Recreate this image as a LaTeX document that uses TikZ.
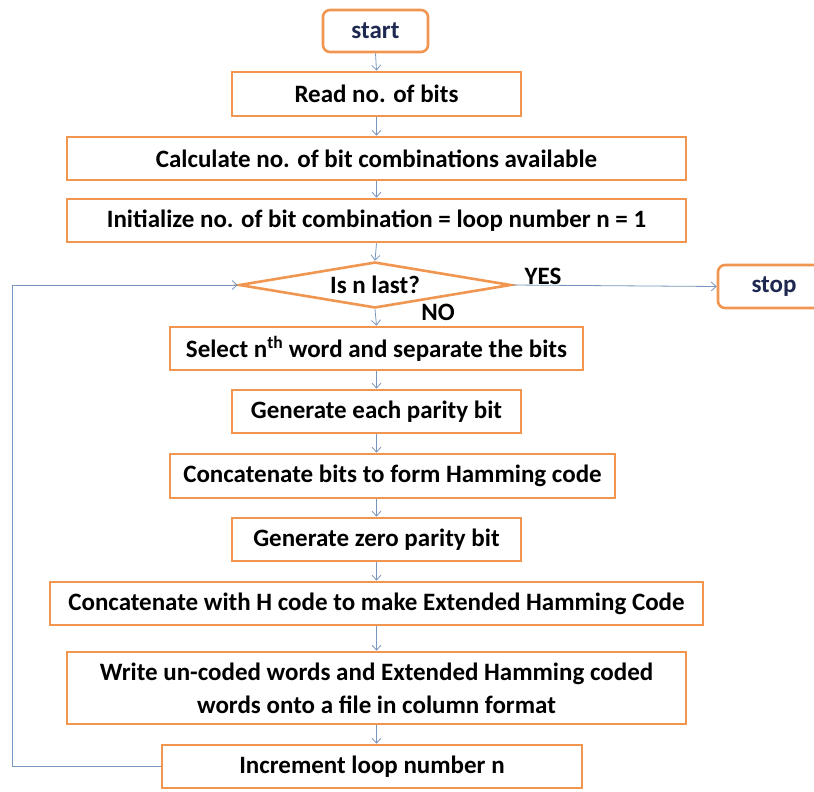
\documentclass[tikz,border=0pt]{standalone}
\usepackage{fontspec}
\setmainfont{Carlito}
\usetikzlibrary{arrows.meta,shapes.geometric}
\definecolor{boxorange}{RGB}{240,150,80}
\definecolor{arrblue}{RGB}{120,150,190}
\definecolor{termtext}{RGB}{30,40,80}
\begin{document}
\begin{tikzpicture}[x=1pt,y=-1pt,
  stepbox/.style={draw=boxorange,line width=2.6pt,fill=white,inner sep=2pt,
    font=\fontsize{25}{33}\selectfont\bfseries,align=center},
  termbox/.style={stepbox,rounded corners=7pt,text=termtext},
  decbox/.style={diamond,draw=boxorange,line width=2.6pt,fill=white,inner sep=0pt,
    minimum width=272pt,minimum height=46pt},
  lbl/.style={font=\fontsize{25}{33}\selectfont\bfseries,inner sep=0pt},
  arr/.style={draw=arrblue,line width=0.8pt,-{Straight Barb[length=5pt,width=9pt]}}]
\useasboundingbox (0,0) rectangle (814,792);
\node[termbox,minimum width=105pt,minimum height=42pt] (start) at (375.5,31) {start};
\node[stepbox,minimum width=289pt,minimum height=44pt] (read) at (376.5,94) {Read no. of bits};
\node[stepbox,minimum width=619pt,minimum height=43pt] (calc) at (376.5,158.5) {Calculate no. of bit combinations available};
\node[stepbox,minimum width=619pt,minimum height=43pt] (init) at (376.5,220.5) {Initialize no. of bit combination = loop number n = 1};
\node[decbox] (dia) at (375,285) {};
\node[lbl] (diat) at (dia.center) {Is n last?};
\node[termbox,minimum width=112pt,minimum height=43pt] (stop) at (774,286.5) {stop};
\node[lbl] (yes) at (543,276) {YES};
\node[lbl] (no) at (438,312) {NO};
\node[stepbox,minimum width=413pt,minimum height=43pt] (sel) at (376.5,348.5) {Select n\textsuperscript{th} word and separate the bits};
\node[stepbox,minimum width=289pt,minimum height=43pt] (gen1) at (376.5,411.5) {Generate each parity bit};
\node[stepbox,minimum width=445pt,minimum height=44pt] (cat1) at (392.5,476) {Concatenate bits to form Hamming code};
\node[stepbox,minimum width=289pt,minimum height=43pt] (gen0) at (376.5,539.5) {Generate zero parity bit};
\node[stepbox,minimum width=653pt,minimum height=43pt] (catH) at (376.5,603.5) {Concatenate with H code to make Extended Hamming Code};
\node[stepbox,minimum width=619pt,minimum height=72pt] (write) at (376.5,688) {Write un-coded words and Extended Hamming coded\\words onto a file in column format};
\node[stepbox,minimum width=420pt,minimum height=43pt] (incr) at (372,766.5) {Increment loop number n};
\coordinate (lp) at (12,766.5);
\draw[arr] (start.south) -- (read.north);
\draw[arr] (read.south) -- (calc.north);
\draw[arr] (calc.south) -- (init.north);
\draw[arr] (init.south) -- (dia.north);
\draw[arr] (dia.south) -- (sel.north);
\draw[arr] (sel.south) -- (gen1.north);
\draw[arr] (gen1.south) -- (gen1.south |- cat1.north);
\draw[arr] (gen1.south |- cat1.south) -- (gen0.north);
\draw[arr] (gen0.south) -- (catH.north);
\draw[arr] (catH.south) -- (write.north);
\draw[arr] (write.south) -- (write.south |- incr.north);
\draw[arr] (dia.east) -- (stop.west);
\draw[arr] (incr.west) -- (lp) |- (dia.west);
\end{tikzpicture}
\end{document}
